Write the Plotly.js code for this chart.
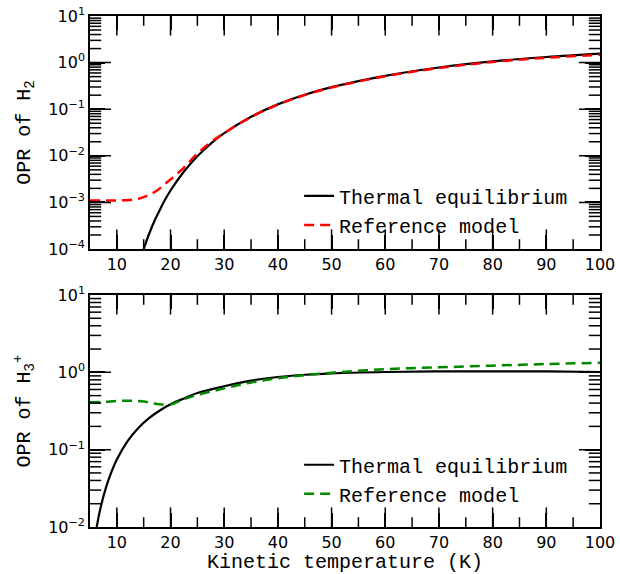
<!DOCTYPE html>
<html>
<head>
<meta charset="utf-8">
<script src="https://cdn.plot.ly/plotly-3.0.1.min.js"></script>
<style>html,body{margin:0;padding:0;background:#fff;}#chart{width:620px;height:574px;}</style>
</head>
<body>
<div id="chart"></div>
<script>
// ---- Data ----
// Top panel: OPR of H2
var tempH2Thermal = [15, 16, 17, 18, 19, 20, 22.5, 25, 27.5, 30, 35, 40, 45, 50, 60, 70, 80, 90, 100];
var oprH2Thermal  = [1.0e-4, 2.1e-4, 4.0e-4, 6.9e-4, 1.15e-3, 1.8e-3, 4.6e-3, 9.8e-3, 0.0183, 0.0306, 0.069, 0.127, 0.204, 0.297, 0.52, 0.785, 1.06, 1.32, 1.56];
var tempH2Model   = [5, 7.5, 10, 12.5, 14, 15, 16, 17.5, 19, 20, 21, 22.5, 25, 27.5, 30, 35, 40, 45, 50, 60, 70, 80, 90, 100];
var oprH2Model    = [1.1e-3, 1.1e-3, 1.1e-3, 1.13e-3, 1.2e-3, 1.3e-3, 1.45e-3, 1.8e-3, 2.5e-3, 3.1e-3, 3.9e-3, 5.6e-3, 0.0112, 0.0195, 0.0306, 0.068, 0.125, 0.201, 0.292, 0.51, 0.765, 1.03, 1.27, 1.47];
// Bottom panel: OPR of H3+
var tempH3Thermal = [6.25, 7, 8, 9, 10, 12, 14, 16, 18, 20, 22.5, 25, 30, 35, 40, 45, 50, 60, 70, 80, 90, 100];
var oprH3Thermal  = [0.0100, 0.0182, 0.0328, 0.0517, 0.0746, 0.129, 0.191, 0.256, 0.321, 0.386, 0.46, 0.54, 0.66, 0.78, 0.87, 0.93, 0.97, 1.01, 1.03, 1.03, 1.03, 1.01];
var tempH3Model   = [5, 7.5, 10, 12.5, 15, 17.5, 20, 22.5, 25, 30, 35, 40, 45, 50, 60, 70, 80, 90, 100];
var oprH3Model    = [0.41, 0.415, 0.425, 0.43, 0.42, 0.39, 0.385, 0.45, 0.51, 0.62, 0.74, 0.84, 0.92, 0.99, 1.10, 1.16, 1.22, 1.28, 1.33];
// Tick labels
var xTickVals = [10, 20, 30, 40, 50, 60, 70, 80, 90, 100];
var xMinorVals = [5, 15, 25, 35, 45, 55, 65, 75, 85, 95];
var yTopTickVals = [1e-4, 1e-3, 1e-2, 1e-1, 1, 10];
var yTopTickText = ['10<sup>−4</sup>', '10<sup>−3</sup>', '10<sup>−2</sup>', '10<sup>−1</sup>', '10<sup>0</sup>', '10<sup>1</sup>'];
var yBotTickVals = [1e-2, 1e-1, 1, 10];
var yBotTickText = ['10<sup>−2</sup>', '10<sup>−1</sup>', '10<sup>0</sup>', '10<sup>1</sup>'];
var legendNames = ['Thermal equilibrium', 'Reference model'];

// minor tick positions on the log axes (2..9 times each decade)
function logMinor(lo, hi) {
  var out = [];
  for (var e = lo; e < hi; e++) {
    for (var m = 2; m <= 9; m++) out.push(m * Math.pow(10, e));
  }
  return out;
}
var mono = 'Liberation Mono, Courier New, monospace';
var sans = 'DejaVu Sans, sans-serif';

var traces = [
  {x: tempH2Thermal, y: oprH2Thermal, mode: 'lines', name: legendNames[0], line: {color: 'black', width: 2.2, shape: 'spline'}, xaxis: 'x', yaxis: 'y', legend: 'legend'},
  {x: tempH2Model, y: oprH2Model, mode: 'lines', name: legendNames[1], line: {color: '#ff0000', width: 2.5, dash: '10px,6px', shape: 'spline'}, xaxis: 'x', yaxis: 'y', legend: 'legend'},
  {x: tempH3Thermal, y: oprH3Thermal, mode: 'lines', name: legendNames[0], line: {color: 'black', width: 2.2, shape: 'spline'}, xaxis: 'x2', yaxis: 'y2', legend: 'legend2'},
  {x: tempH3Model, y: oprH3Model, mode: 'lines', name: legendNames[1], line: {color: '#008800', width: 2.5, dash: '10px,6px', shape: 'spline'}, xaxis: 'x2', yaxis: 'y2', legend: 'legend2'}
];

// ---- Inside tick marks on all four sides, as line-shaped markers sitting on the frame ----
// (half of each marker lies outside the plot area and is clipped away)
var X0 = 5, X1 = 100;
function tickMarkers(xa, ya, yLo, yHi, xVals, yVals, xSize, ySize) {
  var out = [];
  var xs = [], ys = [];
  xVals.forEach(function (v) { xs.push(v, v); ys.push(yLo, yHi); });
  out.push({x: xs, y: ys, mode: 'markers', xaxis: xa, yaxis: ya, showlegend: false, hoverinfo: 'skip', cliponaxis: true,
            marker: {symbol: 'line-ns-open', size: xSize, color: '#000000', line: {width: 1.5, color: '#000000'}}});
  var xs2 = [], ys2 = [];
  yVals.forEach(function (v) { xs2.push(X0, X1); ys2.push(v, v); });
  out.push({x: xs2, y: ys2, mode: 'markers', xaxis: xa, yaxis: ya, showlegend: false, hoverinfo: 'skip', cliponaxis: true,
            marker: {symbol: 'line-ew-open', size: ySize, color: '#000000', line: {width: 1.5, color: '#000000'}}});
  return out;
}
traces = traces
  .concat(tickMarkers('x', 'y', 1e-4, 10, xTickVals.slice(0, 9), yTopTickVals.slice(1, -1), 28, 30))
  .concat(tickMarkers('x', 'y', 1e-4, 10, xMinorVals.slice(1), logMinor(-4, 1), 14, 16))
  .concat(tickMarkers('x2', 'y2', 1e-2, 10, xTickVals.slice(0, 9), yBotTickVals.slice(1, -1), 28, 30))
  .concat(tickMarkers('x2', 'y2', 1e-2, 10, xMinorVals.slice(1), logMinor(-2, 1), 14, 16));

function xAxis(anchor, title) {
  var ax = {
    anchor: anchor, range: [X0, X1], domain: [0, 1],
    tickmode: 'array', tickvals: xTickVals,
    ticks: 'inside', ticklen: 14, tickwidth: 1.5, tickcolor: '#000000',
    showline: true, linecolor: '#000000', linewidth: 1.6, mirror: 'ticks',
    showgrid: false, zeroline: false,
    tickfont: {family: sans, size: 16, color: 'black'}
  };
  if (title) ax.title = {text: title, font: {family: mono, size: 20, color: 'black'}, standoff: 6};
  return ax;
}
function yAxis(anchor, domain, range, vals, text, title) {
  return {
    anchor: anchor, domain: domain, type: 'log', range: range,
    tickmode: 'array', tickvals: vals, ticktext: text,
    ticks: 'inside', ticklen: 15, tickwidth: 1.5, tickcolor: '#000000',
    showline: true, linecolor: '#000000', linewidth: 1.6, mirror: 'ticks',
    showgrid: false, zeroline: false,
    tickfont: {family: sans, size: 16, color: 'black'},
    title: {text: title, font: {family: mono, size: 20, color: 'black'}, standoff: 12}
  };
}

var layout = {
  width: 620, height: 574,
  margin: {l: 90, r: 20, t: 16, b: 47},
  paper_bgcolor: 'white', plot_bgcolor: 'white',
  showlegend: true,
  xaxis: xAxis('y', null),
  yaxis: yAxis('x', [0.544, 1], [-4, 1], yTopTickVals, yTopTickText, 'OPR of H<sub>2</sub>'),
  xaxis2: xAxis('y2', 'Kinetic temperature (K)'),
  yaxis2: yAxis('x2', [0, 0.454], [-2, 1], yBotTickVals, yBotTickText, 'OPR of H<sub>3</sub><sup>+</sup>'),
  legend: {x: 0.41, y: 0.686, xanchor: 'left', yanchor: 'top', bgcolor: 'rgba(0,0,0,0)', borderwidth: 0,
           font: {family: mono, size: 20, color: 'black'}, tracegroupgap: 0},
  legend2: {x: 0.41, y: 0.160, xanchor: 'left', yanchor: 'top', bgcolor: 'rgba(0,0,0,0)', borderwidth: 0,
            font: {family: mono, size: 20, color: 'black'}, tracegroupgap: 0}
};

Plotly.newPlot('chart', traces, layout, {displayModeBar: false});
</script>
</body>
</html>
